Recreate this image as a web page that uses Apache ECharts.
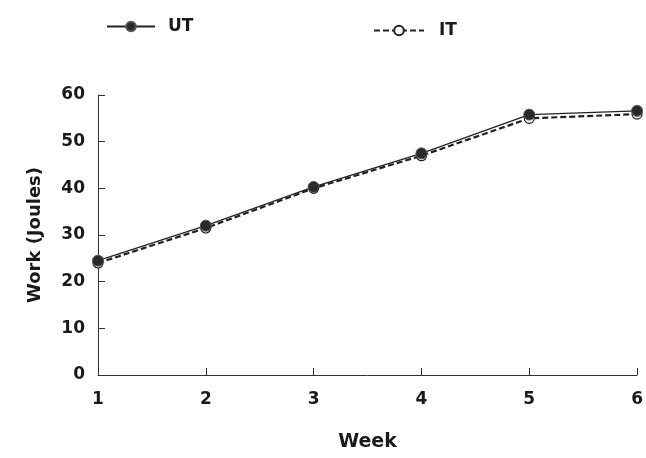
<!DOCTYPE html>
<html>
<head>
<meta charset="utf-8">
<script src="https://cdn.jsdelivr.net/npm/echarts@6/dist/echarts.min.js"></script>
<style>html,body{margin:0;padding:0;background:#fff;}#c{width:646px;height:458px;}</style>
</head>
<body>
<div id="c"></div>
<script>
var weeks = [1, 2, 3, 4, 5, 6];
var utValues = [24.5, 32.0, 40.3, 47.5, 55.8, 56.6];
var itValues = [24.0, 31.5, 40.0, 47.0, 55.0, 55.9];
var yTicks = [0, 10, 20, 30, 40, 50, 60];

function pairs(vals) { return weeks.map(function (w, i) { return [w, vals[i]]; }); }

var font = 'DejaVu Sans, Verdana, sans-serif';
var chart = echarts.init(document.getElementById('c'));
chart.setOption({
  animation: false,
  backgroundColor: '#fff',
  legend: [
    { data: ['UT'], left: 101, top: 13, itemWidth: 48, itemHeight: 12,
      textStyle: { fontFamily: font, fontWeight: 'bold', fontSize: 17, color: '#1a1a1a', padding: [0, 0, 0, 8] } },
    { data: ['IT'], left: 368, top: 17, itemWidth: 50, itemHeight: 12,
      textStyle: { fontFamily: font, fontWeight: 'bold', fontSize: 17, color: '#1a1a1a', padding: [0, 0, 0, 10] } }
  ],
  grid: { left: 98, right: 8, top: 95, bottom: 83, containLabel: false },
  xAxis: {
    type: 'value', min: 1, max: 6, interval: 1,
    name: 'Week', nameLocation: 'middle', nameGap: 58,
    nameTextStyle: { fontFamily: font, fontWeight: 'bold', fontSize: 19, color: '#1a1a1a' },
    axisLine: { lineStyle: { color: '#333', width: 1 } },
    axisTick: { inside: true, length: 7, lineStyle: { color: '#333' } },
    axisLabel: { fontFamily: font, fontWeight: 'bold', fontSize: 17, color: '#1a1a1a', margin: 16 },
    splitLine: { show: false }
  },
  yAxis: {
    type: 'value', min: 0, max: 60, interval: 10,
    name: 'Work (Joules)', nameLocation: 'middle', nameGap: 54, nameRotate: 90,
    nameTextStyle: { fontFamily: font, fontWeight: 'bold', fontSize: 18, color: '#1a1a1a' },
    axisLine: { show: true, lineStyle: { color: '#333', width: 1 } },
    axisTick: { show: true, inside: true, length: 7, lineStyle: { color: '#333' } },
    axisLabel: { fontFamily: font, fontWeight: 'bold', fontSize: 17, color: '#1a1a1a', margin: 13,
      formatter: function (v) { return yTicks.indexOf(v) >= 0 ? String(v) : ''; } },
    splitLine: { show: false }
  },
  series: [
    { name: 'UT', type: 'line', data: pairs(utValues),
      symbol: 'circle', symbolSize: 11,
      itemStyle: { color: '#2a2a2a', borderColor: '#555', borderWidth: 1 },
      lineStyle: { color: '#222', width: 1.2, type: 'solid' }, z: 3 },
    { name: 'IT', type: 'line', data: pairs(itValues),
      symbol: 'circle', symbolSize: 10,
      itemStyle: { color: '#fff', borderColor: '#222', borderWidth: 1.2 },
      lineStyle: { color: '#222', width: 2.2, type: [6, 3] }, z: 2 }
  ]
});
</script>
</body>
</html>
